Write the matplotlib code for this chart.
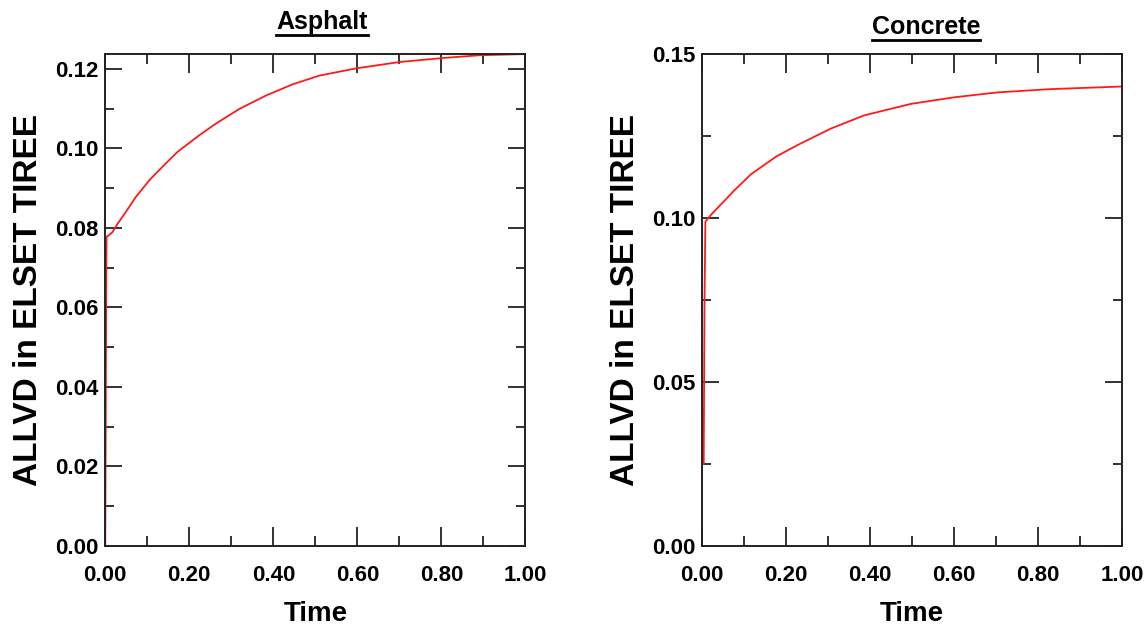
import matplotlib.pyplot as plt
from matplotlib.ticker import MultipleLocator
from matplotlib.lines import Line2D

plt.rcParams['font.family'] = ['Liberation Sans', 'DejaVu Sans']
plt.rcParams['font.weight'] = 'bold'

# Asphalt curve
asphalt_time = [0.0, 0.001, 0.002, 0.003, 0.017, 0.029, 0.049, 0.073, 0.105, 0.144, 0.173,
                0.224, 0.263, 0.319, 0.383, 0.446, 0.510, 0.597, 0.700, 0.803, 0.890, 1.0]
asphalt_allvd = [0.0, 0.03, 0.058, 0.0777, 0.0789, 0.0810, 0.0840, 0.0878, 0.0920, 0.0962, 0.0992,
                 0.1033, 0.1062, 0.1099, 0.1133, 0.1161, 0.1183, 0.1201, 0.1217, 0.1227, 0.1234, 0.1237]

# Concrete curve
concrete_time = [0.0, 0.0, 0.004, 0.006, 0.008, 0.022, 0.046, 0.078, 0.117, 0.177, 0.228,
                 0.307, 0.386, 0.497, 0.600, 0.703, 0.830, 1.0]
concrete_allvd = [0.0, 0.025, 0.025, 0.075, 0.0988, 0.1010, 0.1042, 0.1085, 0.1133, 0.1187, 0.1222,
                  0.1272, 0.1312, 0.1347, 0.1367, 0.1382, 0.1392, 0.1400]

panels = [
    ('Asphalt', asphalt_time, asphalt_allvd, 0.1238, 0.02, 0.01, 0.0917, 322, 22),
    ('Concrete', concrete_time, concrete_allvd, 0.15, 0.05, 0.025, 0.6115, 926, 27),
]

fig = plt.figure(figsize=(11.48, 6.3), dpi=100)
titles = []
for name, t, v, ytop, ymaj, ymin, left, title_x, title_y in panels:
    ax = fig.add_axes([left, 0.1333, 0.366, 0.7815])
    ax.plot(t, v, color='#ff1a1a', lw=1.3)
    ax.set_xlim(0, 1.0)
    ax.set_ylim(0, ytop)
    ax.xaxis.set_major_locator(MultipleLocator(0.2))
    ax.xaxis.set_minor_locator(MultipleLocator(0.1))
    ax.yaxis.set_major_locator(MultipleLocator(ymaj))
    ax.yaxis.set_minor_locator(MultipleLocator(ymin))
    ax.xaxis.set_major_formatter(lambda x, pos: '%.2f' % x)
    ax.yaxis.set_major_formatter(lambda x, pos: '%.2f' % x)
    for s in ax.spines.values():
        s.set_color('#222222')
        s.set_linewidth(1.4)
    ax.tick_params(axis='both', which='both', direction='in', top=True, right=True,
                   color='#222222', width=1.3, labelsize=16)
    ax.tick_params(axis='x', which='major', length=14, pad=14)
    ax.tick_params(axis='x', which='minor', length=7)
    ax.tick_params(axis='y', which='major', length=12.5, pad=5)
    ax.tick_params(axis='y', which='minor', length=6.5)
    ax.set_xlabel('Time', fontsize=20, fontweight='bold')
    ax.set_ylabel('ALLVD in ELSET TIREE', fontsize=24, fontweight='bold')
    ax.xaxis.set_label_coords(0.5, -0.112)
    ax.yaxis.set_label_coords(-0.146, 0.5)
    ttl = fig.text(title_x / 1148, 1 - title_y / 630, name, fontsize=18, fontweight='bold',
                   ha='center', va='center')
    titles.append(ttl)

# underline the titles
fig.canvas.draw()
r = fig.canvas.get_renderer()
for ttl in titles:
    bb = ttl.get_window_extent(r).transformed(fig.transFigure.inverted())
    fig.add_artist(Line2D([bb.x0, bb.x1], [bb.y0 - 0.002, bb.y0 - 0.002],
                          transform=fig.transFigure, color='black', lw=2))

plt.savefig('out.png', dpi=100)
